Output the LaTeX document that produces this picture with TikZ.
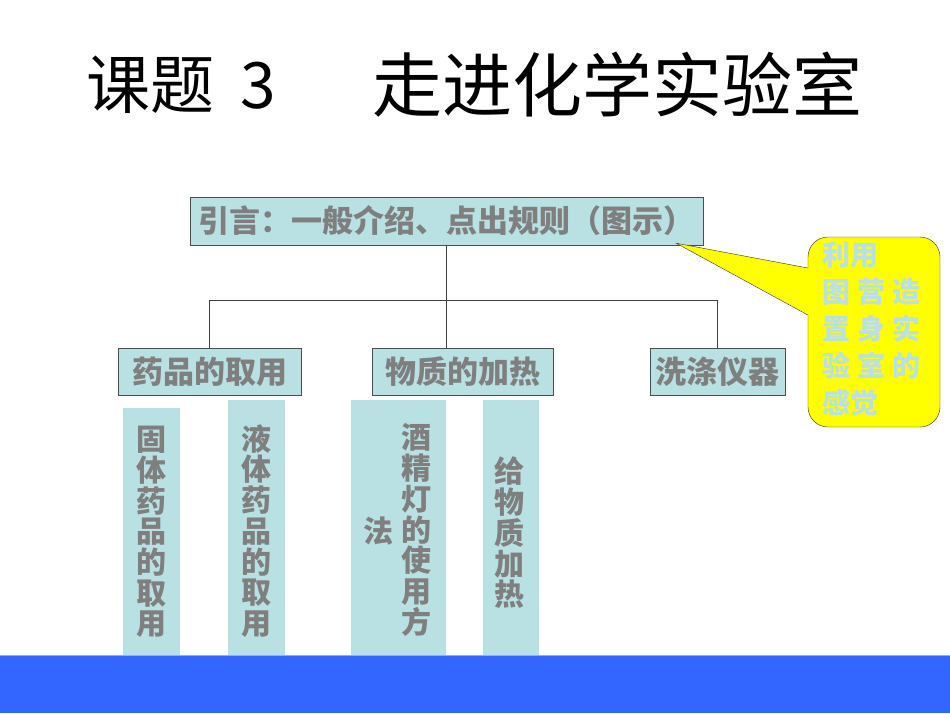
\documentclass[tikz,border=0pt]{standalone}
\usepackage{fontspec}
\newfontfamily\cjk{Noto Sans CJK SC}
\usetikzlibrary{positioning,calc}
\definecolor{boxcyan}{HTML}{B9E0E3}
\definecolor{labelgray}{HTML}{7F7F7F}
\definecolor{barblue}{HTML}{3366FF}
\definecolor{noteyellow}{HTML}{FFFF00}
\tikzset{
    topic/.style={draw=black!70,fill=boxcyan,text=labelgray,inner sep=0pt,
        font=\cjk\bfseries\fontsize{31}{32}\selectfont},
    strip/.style={fill=boxcyan,inner sep=0pt,minimum width=57pt},
    coltext/.style={text=labelgray,align=center,inner sep=0pt,
        font=\cjk\bfseries\fontsize{30}{30.7}\selectfont},
    link/.style={draw=black!75,line width=0.6pt}
}

\begin{document}
\begin{tikzpicture}[x=1pt,y=-1pt]
    \useasboundingbox (0,0) rectangle (950,713);

    % the title
    \node[anchor=west,inner sep=0pt,font=\cjk\fontsize{64}{64}\selectfont] (lesson) at (86,85) {课题\hspace{26pt}3};
    \node[anchor=west,inner sep=0pt,font=\cjk\fontsize{70}{70}\selectfont] (heading) at (372,85) {走进化学实验室};

    % the top box and the three topics
    \node[topic,minimum width=513pt,minimum height=48pt] (intro) at (446.5,221) {引言：一般介绍、点出规则（图示）};
    \node[topic,minimum width=183pt,minimum height=47pt] (taking) at (209.5,371.5) {药品的取用};
    \node[topic,minimum width=181pt,minimum height=47pt] (heating) at (462.5,371.5) {物质的加热};
    \node[topic,minimum width=135pt,minimum height=47pt] (washing) at (717.5,371.5) {洗涤仪器};

    % draw the tree lines
    \coordinate (bus) at (446,300);
    \draw[link] (intro.south -| bus) -- (bus);
    \draw[link] (bus) -| (taking.north);
    \draw[link] (bus) -- (bus |- heating.north);
    \draw[link] (bus) -| (washing.north);

    % the columns under the topics
    \node[strip,minimum height=247pt] (solidcol) at (151.5,531.5) {};
    \node[strip,minimum height=255pt] (liquidcol) at (256.5,527.5) {};
    \node[strip,minimum width=95pt,minimum height=255pt] (lampcol) at (398.5,527.5) {};
    \node[strip,minimum width=56pt,minimum height=255pt] (flamecol) at (511,527.5) {};

    \node[coltext] (solidtext) at (151,532) {固\\体\\药\\品\\的\\取\\用};
    \node[coltext] (liquidtext) at (256,531) {液\\体\\药\\品\\的\\取\\用};
    \node[coltext] (lamptext) at (416,530) {酒\\精\\灯\\的\\使\\用\\方};
    \node[coltext] (lampend) at (378,531) {法};
    \node[coltext] (flametext) at (509,533) {给\\物\\质\\加\\热};

    % the yellow callout
    \node[draw=black!80,fill=noteyellow,rounded corners=20pt,minimum width=132pt,minimum height=190pt] (note) at (874,332) {};
    \coordinate (tip) at ($(intro.south east)+(-27,-2)$);
    \fill[noteyellow] ($(note.west)+(1,-64)$) -- (tip) -- ($(note.west)+(1,-17)$) -- cycle;
    \draw[black!80] ($(note.west)+(0,-64)$) -- (tip) -- ($(note.west)+(0,-17)$);
    \node[anchor=north west,align=left,inner sep=0pt,text=boxcyan,
        font=\cjk\bfseries\fontsize{28}{37}\selectfont] (notetext) at (822,241)
        {利用\\图\hspace{7pt}营\hspace{7pt}造\\置\hspace{7pt}身\hspace{7pt}实\\验\hspace{7pt}室\hspace{7pt}的\\感觉};

    % the bottom bar
    \fill[barblue] (0,655) rectangle (950,713);
    \draw[barblue!55,line width=1.5pt] (0,655.5) -- (950,655.5);
\end{tikzpicture}
\end{document}
